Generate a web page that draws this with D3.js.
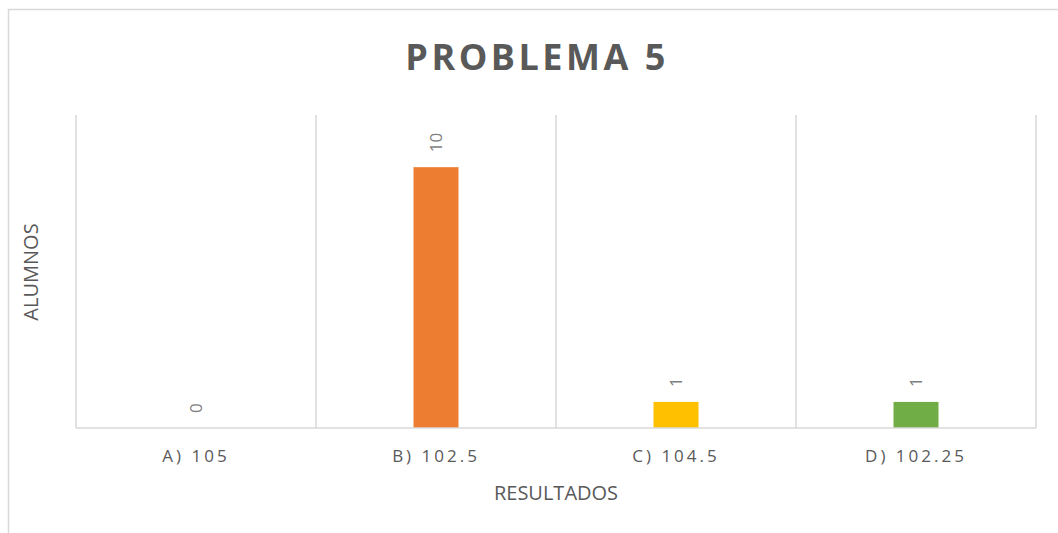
<!DOCTYPE html>
<html>
<head>
<meta charset="utf-8">
<script src="https://cdn.jsdelivr.net/npm/d3@7"></script>
<style>
  html, body { margin: 0; padding: 0; background: #fff; }
  svg { display: block; }
</style>
</head>
<body>
<svg id="chart" width="1058" height="533"></svg>
<script>
// Chart data
const categories = ["A) 105", "B) 102.5", "C) 104.5", "D) 102.25"];
const values = [0, 10, 1, 1];
const barColors = ["#4472C4", "#ED7D31", "#FFC000", "#70AD47"];
const chartTitle = "PROBLEMA 5";
const xTitle = "RESULTADOS";
const yTitle = "ALUMNOS";

const plot = { left: 76, right: 1036, top: 115, bottom: 428 };

const svg = d3.select("#chart");

// Chart area border
svg.append("rect")
  .attr("x", 8.5).attr("y", 9.5)
  .attr("width", 1060).attr("height", 540)
  .attr("fill", "#fff")
  .attr("stroke", "#d9d9d9").attr("stroke-width", 1.5);

const x = d3.scaleBand().domain(categories).range([plot.left, plot.right]).padding(0);
const y = d3.scaleLinear().domain([0, 12]).range([plot.bottom, plot.top]);

// Vertical gridlines at category boundaries
const bounds = categories.map(c => x(c)).concat([plot.right]);
svg.append("g").selectAll("line").data(bounds).join("line")
  .attr("x1", d => d).attr("x2", d => d)
  .attr("y1", plot.top).attr("y2", plot.bottom)
  .attr("stroke", "#d9d9d9").attr("stroke-width", 1.5);

// Bars
const barW = x.bandwidth() * 0.1875;
svg.append("g").selectAll("rect").data(values).join("rect")
  .attr("x", (d, i) => x(categories[i]) + x.bandwidth() / 2 - barW / 2)
  .attr("y", d => y(d))
  .attr("width", barW)
  .attr("height", d => y(0) - y(d))
  .attr("fill", (d, i) => barColors[i]);

// Baseline axis
svg.append("line")
  .attr("x1", plot.left).attr("x2", plot.right)
  .attr("y1", plot.bottom).attr("y2", plot.bottom)
  .attr("stroke", "#d9d9d9").attr("stroke-width", 1.5);

// Value labels, rotated
svg.append("g").selectAll("text").data(values).join("text")
  .attr("transform", (d, i) => {
    const cx = x(categories[i]) + x.bandwidth() / 2;
    return `translate(${cx + 6},${y(d) - 15}) rotate(-90)`;
  })
  .attr("text-anchor", "start")
  .attr("font-family", "'Open Sans', sans-serif")
  .attr("font-size", 17)
  .attr("fill", "#7f7f7f")
  .text(d => d);

// Category labels
const xAxis = d3.axisBottom(x).tickSize(0).tickPadding(0);
const gx = svg.append("g").attr("transform", `translate(0,${plot.bottom})`).call(xAxis);
gx.select(".domain").remove();
gx.selectAll("text")
  .attr("y", 34)
  .attr("dy", 0)
  .attr("font-family", "'Open Sans', sans-serif")
  .attr("font-size", 17)
  .attr("letter-spacing", "3px")
  .attr("fill", "#595959");

// Title
svg.append("text")
  .attr("x", 537).attr("y", 70)
  .attr("text-anchor", "middle")
  .attr("font-family", "'Open Sans', sans-serif")
  .attr("font-weight", "bold")
  .attr("font-size", 36)
  .attr("letter-spacing", "3.5px")
  .attr("fill", "#595959")
  .text(chartTitle);

// Axis titles
svg.append("text")
  .attr("x", 556).attr("y", 500)
  .attr("text-anchor", "middle")
  .attr("font-family", "'Open Sans', sans-serif")
  .attr("font-size", 20)
  .attr("fill", "#595959")
  .text(xTitle);

svg.append("text")
  .attr("transform", "translate(38,272) rotate(-90)")
  .attr("text-anchor", "middle")
  .attr("font-family", "'Open Sans', sans-serif")
  .attr("font-size", 20)
  .attr("fill", "#595959")
  .text(yTitle);
</script>
</body>
</html>
